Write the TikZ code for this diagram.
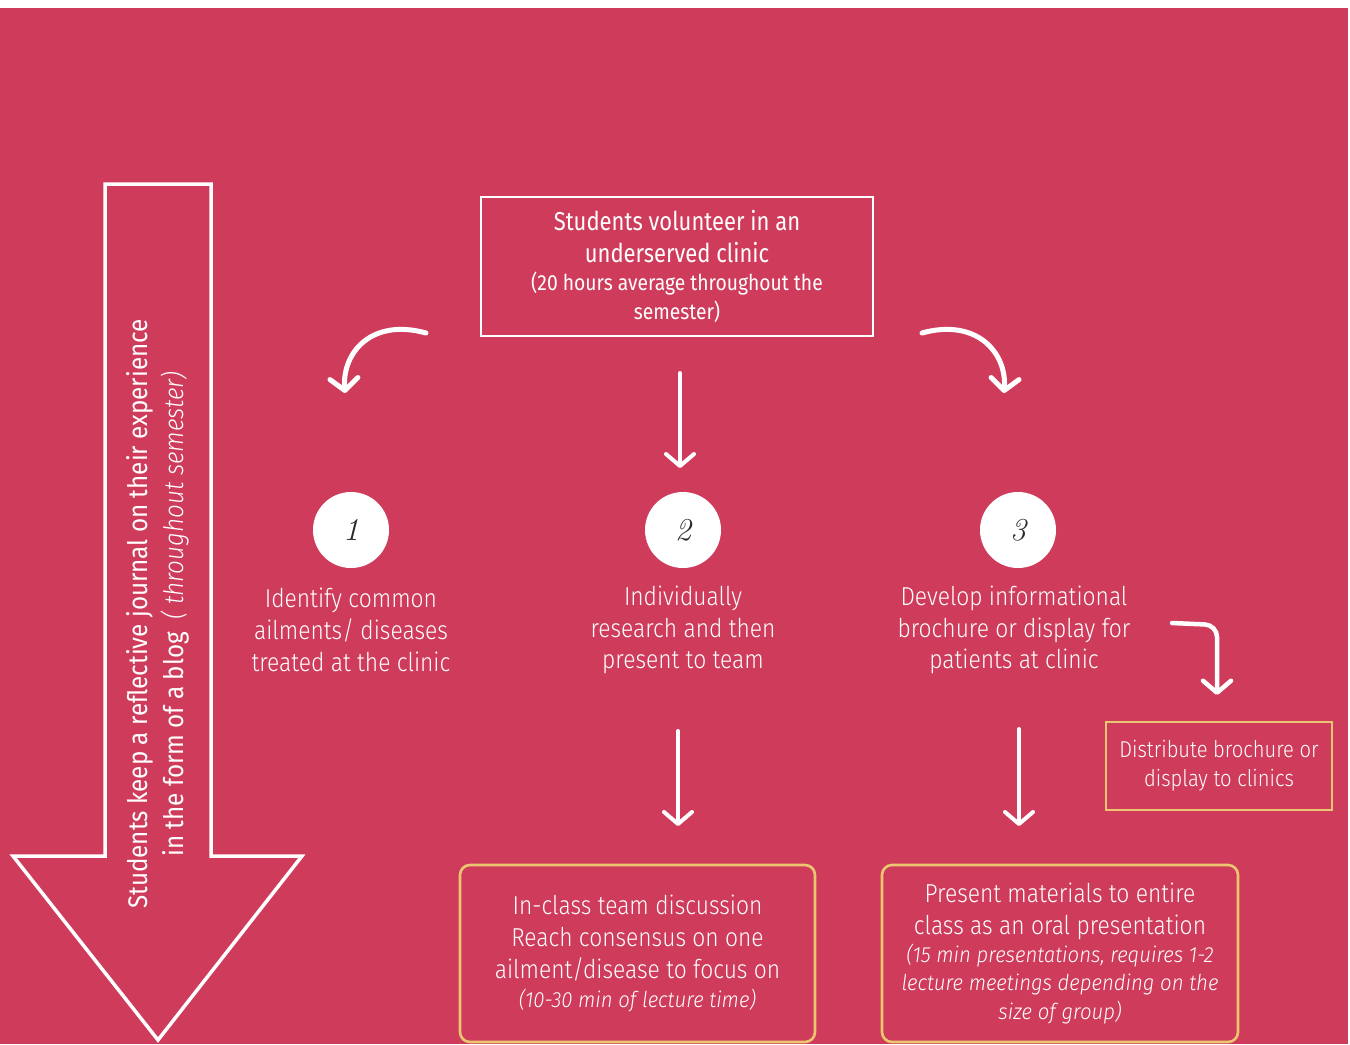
\documentclass[tikz,border=0pt]{standalone}
\usepackage{fontspec}
\usetikzlibrary{arrows.meta}
\IfFontExistsTF{Fira Sans Light}{\newfontfamily\lightf[FakeStretch=0.88]{Fira Sans Light}}{\newfontfamily\lightf[FakeStretch=0.88]{Fira Sans}}
\IfFontExistsTF{Fira Sans Light}{\newfontfamily\itlf[FakeStretch=0.93]{Fira Sans Light}}{\newfontfamily\itlf[FakeStretch=0.93]{Fira Sans}}
\newfontfamily\medf[FakeStretch=0.85]{Fira Sans}
\newfontfamily\rotf[FakeStretch=0.9]{Fira Sans}
\IfFontExistsTF{Fira Sans Light}{\newfontfamily\rotlf[FakeStretch=0.9]{Fira Sans Light}}{\newfontfamily\rotlf[FakeStretch=0.9]{Fira Sans}}
\newfontfamily\subf[FakeStretch=0.88]{Fira Sans}
\definecolor{bg}{RGB}{207,60,91}
\definecolor{gold}{RGB}{234,198,112}
\definecolor{digit}{RGB}{40,40,40}
\newcommand{\itl}{\itlf\itshape\fontsize{22}{28}\selectfont}
\tikzset{
  x=1bp, y=-1bp,
  harrow/.style={white, line width=4.5bp, line cap=round, -{Straight Barb[length=12bp,width=28bp,round]}},
  topbox/.style={draw=white, line width=1.6bp, minimum width=392bp, minimum height=139bp, inner sep=0pt, align=center, text=white},
  numcirc/.style={circle, fill=white, minimum size=76bp, inner sep=0pt, text=digit, font=\itshape\fontsize{32}{32}\selectfont},
  bodytext/.style={text=white, align=center, font=\lightf\fontsize{26}{32}\selectfont},
  goldbox/.style={draw=gold, line width=2.6bp, inner sep=0pt, align=center, text=white},
  bigarrow/.style={draw=white, line width=3.5bp, line join=miter}
}
\begin{document}
\begin{tikzpicture}
\useasboundingbox (0,0) rectangle (1350,1044);
\fill[white] (0,0) rectangle (1350,1044);
\fill[bg] (0,8) rectangle (1348,1044);

% big arrow
\draw[bigarrow] (105,184) -- (211,184) -- (211,856) -- (302,856) -- (158,1040) -- (13,856) -- (105,856) -- cycle;
\node[rotate=90, text=white, align=center, font=\rotf\fontsize{27}{36}\selectfont] (journal) at (158,614)
  {Students keep a reflective journal on their experience\\in the form of a blog \ {\rotlf\itshape ( throughout semester)}};

% top box
\node[topbox, font=\medf\fontsize{26}{32}\selectfont] (top) at (677,266.5)
  {Students volunteer in an\\underserved clinic\\[-4bp]
   \subf\fontsize{22}{27}\selectfont (20 hours average throughout the\\[-3bp]
   \subf\fontsize{22}{27}\selectfont semester)};

% circles
\node[numcirc] (c1) at (351,530) {1};
\node[numcirc] (c2) at (683,530) {2};
\node[numcirc] (c3) at (1018,530) {3};

% step texts
\node[bodytext] (t1) at (351,630) {Identify common\\ailments/ diseases\\treated at the clinic};
\node[bodytext] (t2) at (683,630) {Individually\\research and then\\present to team};
\node[bodytext] (t3) at (1014,630) {Develop informational\\brochure or display for\\patients at clinic};

% gold boxes
\node[goldbox, minimum width=226bp, minimum height=88bp, font=\lightf\fontsize{23}{29}\selectfont] (dist) at (1219,766)
  {Distribute brochure or\\display to clinics};
\node[goldbox, rounded corners=10bp, minimum width=355bp, minimum height=177bp, font=\lightf\fontsize{26}{32}\selectfont] (disc) at (637.5,953.5)
  {In-class team discussion\\Reach consensus on one\\ailment/disease to focus on\\[-3bp]
   \itl (10-30 min of lecture time)};
\node[goldbox, rounded corners=10bp, minimum width=356bp, minimum height=177bp, font=\lightf\fontsize{26}{32}\selectfont] (pres) at (1060,953.5)
  {Present materials to entire\\class as an oral presentation\\[-4bp]
   \itl (15 min presentations, requires 1-2\\[-3bp]\itl lecture meetings depending on the\\[-3bp]\itl size of group)};

% arrow end coordinates
\coordinate (la) at (426,333);  \coordinate (lb) at (345,393);
\coordinate (ra) at (922,333);  \coordinate (rb) at (1004,393);
\coordinate (ma) at (680,373);  \coordinate (mb) at (680,468);
\coordinate (da) at (678,731);  \coordinate (db) at (678,826);
\coordinate (pa) at (1019,729); \coordinate (pb) at (1019,826);
\coordinate (ea) at (1172,623); \coordinate (ec) at (1217,625); \coordinate (eb) at (1217,695);

\draw[harrow, line width=5bp] (la) .. controls (372,318) and (342,352) .. (lb);
\draw[harrow, line width=5bp] (ra) .. controls (976,318) and (1007,352) .. (rb);
\draw[harrow, line width=4bp] (ma) -- (mb);
\draw[harrow, line width=4bp] (da) -- (db);
\draw[harrow, line width=4bp] (pa) -- (pb);
\draw[harrow, rounded corners=12bp] (ea) -- (ec) -- (eb);
\end{tikzpicture}
\end{document}
